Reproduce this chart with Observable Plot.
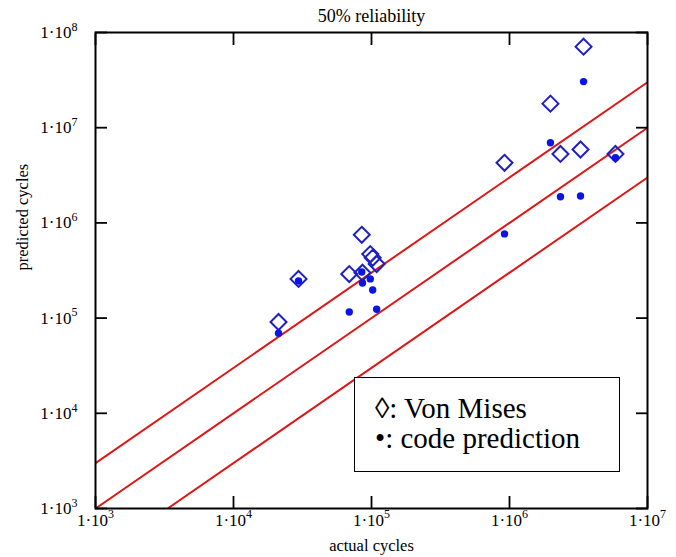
<!DOCTYPE html>
<html>
<head>
<meta charset="utf-8">
<script src="https://cdn.jsdelivr.net/npm/d3@7"></script>
<script src="https://cdn.jsdelivr.net/npm/@observablehq/plot@0.6"></script>
<style>
  html, body { margin: 0; padding: 0; background: #fff; }
  #wrap { position: relative; width: 676px; height: 557px; font-family: 'Liberation Serif', serif; }
  #legend { position: absolute; left: 354px; top: 377px; width: 264px; height: 93px; border: 1.5px solid #000; background: #fff; font-family: 'Liberation Serif', serif; font-size: 29px; line-height: 30px; color: #000; }
  #legend div { padding-left: 20px; white-space: nowrap; }
</style>
</head>
<body>
<div id="wrap"></div>
<script>
// ---- data ----
const actualCycles = [2.12e4, 2.96e4, 6.9e4, 8.5e4, 8.6e4, 9.8e4, 1.02e5, 1.09e5, 9.2e5, 1.98e6, 3.44e6, 2.34e6, 3.27e6, 5.86e6];
const vonMises     = [9.1e4, 2.58e5, 2.9e5, 7.5e5, 3.0e5, 4.7e5, 4.3e5, 3.7e5, 4.28e6, 1.79e7, 7.1e7, 5.3e6, 5.9e6, 5.3e6];
const codePred     = [6.95e4, 2.45e5, 1.16e5, 3.05e5, 2.34e5, 2.58e5, 1.97e5, 1.24e5, 7.66e5, 6.95e6, 3.05e7, 1.88e6, 1.92e6, 4.83e6];

// scatter-band reference lines (factor 3 above, 1:1, factor 3 below)
const bandUpperX = [1e3, 1e7],   bandUpperY = [3e3, 3e7];
const bandMidX   = [1e3, 1e7],   bandMidY   = [1e3, 1e7];
const bandLowerX = [3.333e3, 1e7], bandLowerY = [1e3, 3e6];

const xTicks = [1e3, 1e4, 1e5, 1e6, 1e7];
const yTicks = [1e3, 1e4, 1e5, 1e6, 1e7, 1e8];

const titleText = "50% reliability";
const xLabel = "actual cycles";
const yLabel = "predicted cycles";
const legendItems = ["\u25CA: Von Mises", "\u2022: code prediction"];

// ---- build tables ----
const vmData = actualCycles.map((x, i) => ({x, y: vonMises[i]}));
const cpData = actualCycles.map((x, i) => ({x, y: codePred[i]}));
const lineData = [
  ...bandUpperX.map((x, i) => ({x, y: bandUpperY[i], k: "upper"})),
  ...bandMidX.map((x, i) => ({x, y: bandMidY[i], k: "mid"})),
  ...bandLowerX.map((x, i) => ({x, y: bandLowerY[i], k: "lower"}))
];
const fmt = d => "1\u00B710^" + Math.round(Math.log10(d));

const chart = Plot.plot({
  width: 676, height: 557,
  marginLeft: 95, marginRight: 29, marginTop: 32, marginBottom: 49,
  style: {fontFamily: "'Liberation Serif', serif", background: "#fff", color: "#000"},
  x: {type: "log", domain: [1e3, 1e7], axis: null},
  y: {type: "log", domain: [1e3, 1e8], axis: null},
  marks: [
    Plot.line(lineData, {x: "x", y: "y", z: "k", stroke: "#e01616", strokeWidth: 2, clip: true}),
    Plot.dot(vmData, {x: "x", y: "y", symbol: "diamond2", r: 7.2, stroke: "#2020c0", strokeWidth: 2, fill: "none"}),
    Plot.dot(cpData, {x: "x", y: "y", r: 3.7, fill: "#0b14e4", stroke: "none"}),
    Plot.frame({stroke: "#000", strokeWidth: 2}),
    Plot.axisX(xTicks, {anchor: "bottom", tickSize: 12, dy: -12, tickPadding: 5, tickFormat: fmt, label: null, fontSize: 17, strokeWidth: 1.8}),
    Plot.axisX(xTicks, {anchor: "top", tickSize: 12, dy: 12, tickFormat: () => "", label: null, strokeWidth: 1.8}),
    Plot.axisY(yTicks, {anchor: "left", tickSize: 12, dx: 12, tickPadding: 18, tickFormat: fmt, label: null, fontSize: 17, strokeWidth: 1.8}),
    Plot.axisY(yTicks, {anchor: "right", tickSize: 12, dx: -12, tickFormat: () => "", label: null, strokeWidth: 1.8}),
    Plot.text([titleText], {frameAnchor: "top", dy: -23, fontSize: 18}),
    Plot.text([xLabel], {frameAnchor: "bottom", dy: 42, fontSize: 16.5}),
    Plot.text([yLabel], {frameAnchor: "left", dx: -73, rotate: -90, fontSize: 16.5})
  ]
});

// render exponents as superscripts
d3.select(chart).selectAll("text").each(function () {
  const t = this.textContent;
  if (!t.includes("^")) return;
  const [base, exp] = t.split("^");
  this.textContent = base;
  d3.select(this).append("tspan").attr("dy", "-0.6em").attr("font-size", "12px").text(exp);
});

const wrap = document.getElementById("wrap");
wrap.appendChild(chart);
const legend = document.createElement("div");
legend.id = "legend";
legend.innerHTML = `<div style="margin-top:15px">${legendItems[0]}</div><div>${legendItems[1]}</div>`;
wrap.appendChild(legend);
</script>
</body>
</html>
